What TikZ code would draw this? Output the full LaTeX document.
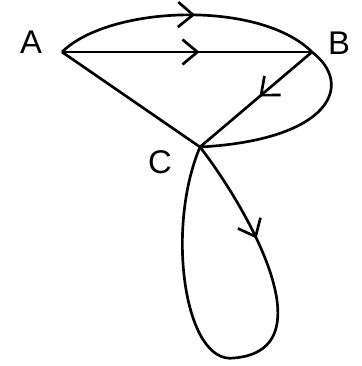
\documentclass[tikz,border=0pt]{standalone}
\usepackage{fontspec}
\setmainfont{Liberation Sans}
\usetikzlibrary{arrows.meta,decorations.markings}
\tikzset{
  edge/.style={line width=0.08cm, black},
  midarrow/.style={postaction={decorate},decoration={markings,
    mark=at position #1 with {\arrow{Straight Barb[length=0.45cm,width=0.75cm,line width=0.08cm]}}}},
  lbl/.style={font=\fontsize{28}{32}\selectfont, inner sep=0pt}
}
\begin{document}
\begin{tikzpicture}[x=0.03cm,y=-0.03cm]
\useasboundingbox (0,0) rectangle (361,366);
\coordinate (A) at (62,52);
\coordinate (B) at (312,52);
\coordinate (C) at (200,147);
\coordinate (D) at (234,358);
\node[lbl] (la) at (31,42) {A};
\node[lbl] (lb) at (339,43) {B};
\node[lbl] (lc) at (160,162) {C};
% top arc A->B
\draw[edge, midarrow=0.53] (A) .. controls (110,5) and (260,0) .. (B);
% straight A->B
\draw[edge, midarrow=0.55] (A) -- (B);
% A - C
\draw[edge] (A) -- (C);
% B -> C straight
\draw[edge, midarrow=0.47] (B) -- (C);
% loop B to C
\draw[edge] (B) .. controls (355,85) and (330,140) .. (C);
% bottom loop
\draw[edge, midarrow=0.42] (C) .. controls (245,205) and (330,350) .. (D);
\draw[edge] (D) .. controls (185,365) and (165,230) .. (C);
\end{tikzpicture}
\end{document}
